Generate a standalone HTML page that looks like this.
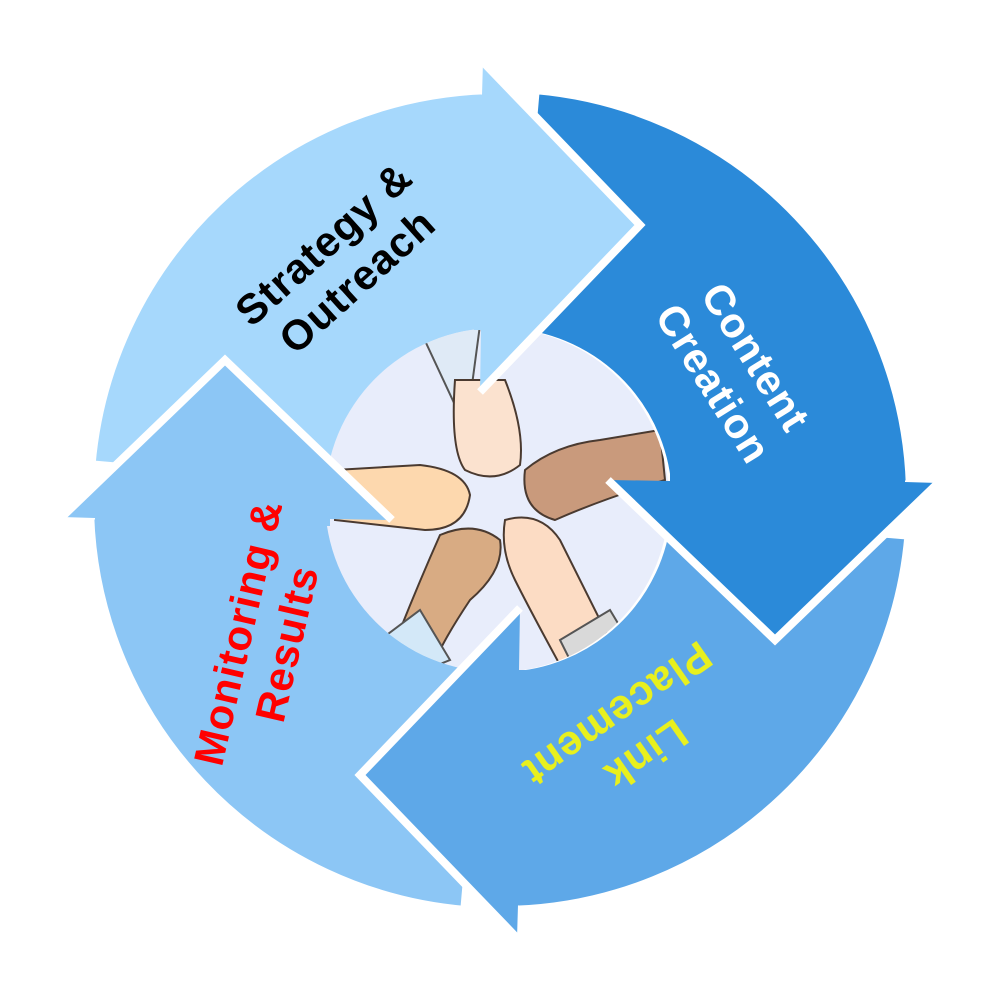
<!DOCTYPE html>
<html><head><meta charset="utf-8"><style>
html,body{margin:0;padding:0;background:#fff;}
svg{display:block;}
text{font-family:"Liberation Sans",sans-serif;font-weight:bold;letter-spacing:1px;}
</style></head><body>
<svg width="1000" height="1000" viewBox="0 0 1000 1000">
<defs>
<clipPath id="cc"><circle cx="497" cy="500" r="172"/></clipPath>
</defs>
<g stroke="#fff" stroke-width="8" stroke-linejoin="miter">
<path d="M91.6,464.3 A410,410 0 0 1 485.7,90.2 L494.1,332.1 A168,168 0 0 0 332.6,485.4 Z" fill="#a6d8fc"/>
<path d="M535.7,90.2 A410,410 0 0 1 909.8,484.3 L667.9,494.1 A168,168 0 0 0 514.6,332.6 Z" fill="#2b8ad9"/>
<path d="M908.4,535.7 A410,410 0 0 1 514.3,909.8 L505.9,667.9 A168,168 0 0 0 667.4,514.6 Z" fill="#5ea8e8"/>
<path d="M464.3,909.8 A410,410 0 0 1 90.2,515.7 L332.1,505.9 A168,168 0 0 0 485.4,667.4 Z" fill="#8cc6f5"/>
</g>
<g clip-path="url(#cc)">
<rect x="320" y="320" width="360" height="360" fill="#e8edfb"/>
<path d="M420,330 L480,325 L470,400 L455,405 Z" fill="#dfeaf6" stroke="#555" stroke-width="2"/>
<path d="M455,380 Q450,450 465,470 Q495,485 520,465 Q525,430 505,380 Z" fill="#fbe2cf" stroke="#4a3a30" stroke-width="2"/>
<path d="M660,430 L600,440 Q555,445 525,470 Q520,510 555,520 Q600,500 665,480 Z" fill="#c99a7c" stroke="#4a3a30" stroke-width="2"/>
<path d="M335,470 L420,465 Q465,470 470,495 Q465,530 425,530 L335,520 Z" fill="#fdd8ae" stroke="#4a3a30" stroke-width="2"/>
<path d="M505,520 Q540,510 560,540 Q590,600 610,640 L560,665 Q530,610 515,580 Q500,550 505,520 Z" fill="#fcdcc4" stroke="#4a3a30" stroke-width="2"/>
<path d="M440,535 Q475,520 500,540 Q505,570 470,600 Q450,630 440,650 L400,630 Q420,580 440,535 Z" fill="#d8ab83" stroke="#4a3a30" stroke-width="2"/>
<path d="M560,640 L610,610 L640,660 L580,680 Z" fill="#d9d9d9" stroke="#555" stroke-width="2"/>
<path d="M380,640 L420,610 L450,660 L400,680 Z" fill="#d3e8f8" stroke="#555" stroke-width="2"/>
</g>
<g>
<path d="M483,62 L640,225 L480,392 L481,330 L474,330 L474,95 L482,95 Z" fill="#a6d8fc"/>
<path d="M938,483 L775,640 L608,480 L670,481 L670,474 L905,474 L905,482 Z" fill="#2b8ad9"/>
<path d="M517,938 L360,775 L520,608 L519,670 L526,670 L526,905 L518,905 Z" fill="#5ea8e8"/>
<path d="M62,517 L225,360 L392,520 L330,519 L330,526 L95,526 L95,518 Z" fill="#8cc6f5"/>
</g>
<g stroke="#fff" stroke-width="8" fill="none" stroke-linejoin="miter">
<polyline points="483,62 640,225 480,392"/>
<polyline points="938,483 775,640 608,480"/>
<polyline points="517,938 360,775 520,608"/>
<polyline points="62,517 225,360 392,520"/>
</g>
<g font-size="42" text-anchor="middle">
<g transform="translate(340,262) rotate(-42)">
<text x="0" y="-10" fill="#000">Strategy &amp;</text>
<text x="0" y="40" fill="#000">Outreach</text>
</g>
<g transform="translate(735,370) rotate(58)">
<text x="0" y="-10" fill="#fff">Content</text>
<text x="0" y="40" fill="#fff">Creation</text>
</g>
<g transform="translate(632,735) rotate(145)">
<text x="0" y="-10" fill="#e8f01e">Link</text>
<text x="0" y="40" fill="#e8f01e">Placement</text>
</g>
<g transform="translate(262,638) rotate(-77)">
<text x="0" y="-10" fill="#ff0000">Monitoring &amp;</text>
<text x="0" y="40" fill="#ff0000">Results</text>
</g>
</g>
</svg>
</body></html>
